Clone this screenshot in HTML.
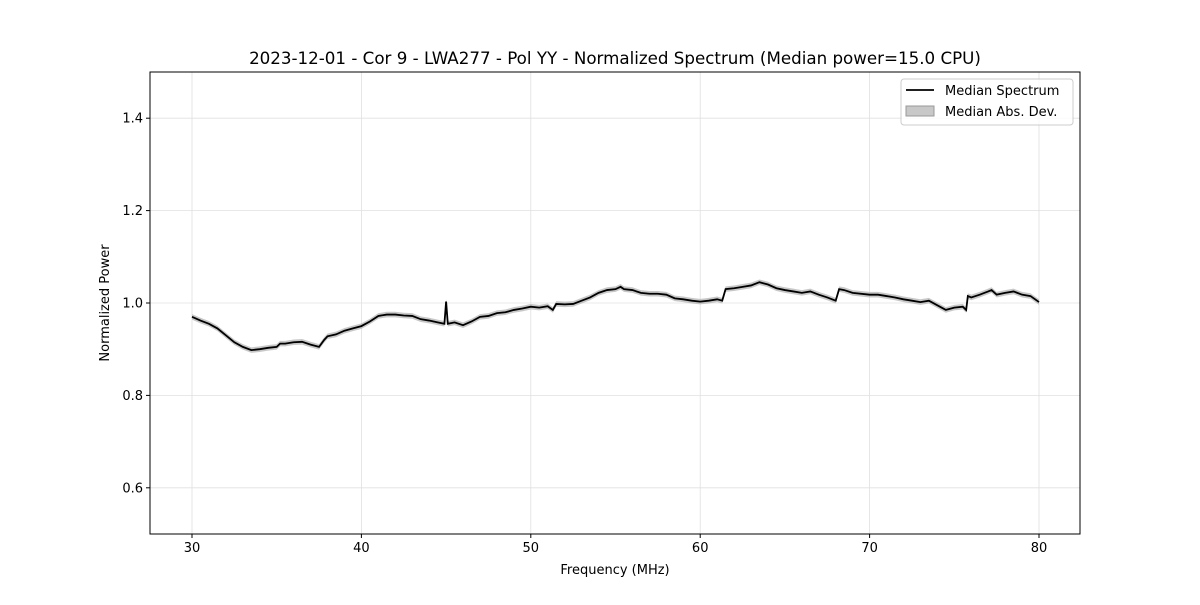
<!DOCTYPE html>
<html><head><meta charset="utf-8"><style>
body{margin:0;background:#fff;font-family:"Liberation Sans","DejaVu Sans",sans-serif;}
svg text{font-family:"DejaVu Sans","Liberation Sans",sans-serif;}
</style></head><body>
<svg id="c" width="1200" height="600"></svg>
<script>
const freqs=[30,30.5,31,31.5,32,32.5,33,33.5,34,34.5,35,35.2,35.5,36,36.5,37,37.5,37.8,38,38.5,39,39.5,40,40.5,41,41.5,42,42.5,43,43.5,44,44.5,44.9,45,45.1,45.5,46,46.5,47,47.5,48,48.5,49,49.5,50,50.5,51,51.3,51.5,52,52.5,53,53.5,54,54.5,55,55.3,55.5,56,56.5,57,57.5,58,58.5,59,59.5,60,60.5,61,61.3,61.5,62,62.5,63,63.5,64,64.5,65,65.5,66,66.5,67,67.5,68,68.2,68.5,69,70,70.5,71,71.5,72,72.5,73,73.5,74,74.5,75,75.5,75.7,75.8,76,76.5,77,77.2,77.5,78,78.5,79,79.5,80];
const medians=[0.970,0.962,0.955,0.945,0.930,0.915,0.905,0.898,0.900,0.903,0.905,0.912,0.912,0.915,0.916,0.910,0.905,0.920,0.928,0.932,0.940,0.945,0.950,0.960,0.972,0.975,0.975,0.973,0.972,0.965,0.962,0.958,0.955,1.003,0.955,0.958,0.952,0.960,0.970,0.972,0.978,0.980,0.985,0.988,0.992,0.990,0.993,0.985,0.998,0.997,0.998,1.005,1.012,1.022,1.028,1.030,1.035,1.030,1.028,1.022,1.020,1.020,1.018,1.010,1.008,1.005,1.003,1.005,1.008,1.005,1.030,1.032,1.035,1.038,1.045,1.040,1.032,1.028,1.025,1.022,1.025,1.018,1.012,1.005,1.030,1.028,1.022,1.018,1.018,1.015,1.012,1.008,1.005,1.002,1.005,0.995,0.985,0.990,0.992,0.985,1.015,1.012,1.018,1.025,1.028,1.018,1.022,1.025,1.018,1.015,1.002];
const madVal=0.006;
const xTicks=[30,40,50,60,70,80];
const yTicks=[0.6,0.8,1.0,1.2,1.4];
const NS='http://www.w3.org/2000/svg',svg=document.getElementById('c');
const L=150,R=1080,T=72,B=534;
const xs=v=>192+(v-30)*(1039-192)/50;
const ys=v=>B-(v-0.5)*(B-T)/1.0;
function mk(tag,attrs,parent){const e=document.createElementNS(NS,tag);for(const k in attrs)e.setAttribute(k,attrs[k]);(parent||svg).appendChild(e);return e;}
xTicks.forEach(t=>{const g=mk('line',{x1:xs(t),x2:xs(t),y1:T,y2:B,stroke:'#e0e0e0','stroke-width':0.8});


mk('line',{x1:xs(t),x2:xs(t),y1:B,y2:B+4,stroke:'#000'});
const tx=mk('text',{x:xs(t),y:B+18,'text-anchor':'middle','font-size':13});tx.textContent=t;

});
yTicks.forEach(t=>{const g=mk('line',{x1:L,x2:R,y1:ys(t),y2:ys(t),stroke:'#e0e0e0','stroke-width':0.8});


mk('line',{x1:L-4,x2:L,y1:ys(t),y2:ys(t),stroke:'#000'});
const tx=mk('text',{x:L-7,y:ys(t)+4.5,'text-anchor':'end','font-size':13});tx.textContent=t.toFixed(1);

});
let up=freqs.map((f,i)=>xs(f)+','+ys(medians[i]+madVal)).join(' ');
let dn=freqs.map((f,i)=>xs(f)+','+ys(medians[i]-madVal)).reverse().join(' ');
const band=mk('polygon',{points:up+' '+dn,fill:'#b0b0b0','fill-opacity':0.7});


const line=mk('polyline',{points:freqs.map((f,i)=>xs(f)+','+ys(medians[i])).join(' '),fill:'none',stroke:'#000','stroke-width':1.8});


const fr=mk('rect',{x:L,y:T,width:R-L,height:B-T,fill:'none',stroke:'#000','stroke-width':1});


</script>
<svg width="1200" height="600" style="position:absolute;left:0;top:0">
<text x="615" y="64" text-anchor="middle" font-size="16.7">2023-12-01 - Cor 9 - LWA277 - Pol YY - Normalized Spectrum (Median power=15.0 CPU)</text>
<text x="615" y="574" text-anchor="middle" font-size="13">Frequency (MHz)</text>
<text x="109" y="303" text-anchor="middle" font-size="13" transform="rotate(-90 109 303)">Normalized Power</text>
<g>
<rect x="901" y="79" width="172" height="46" rx="3" fill="#fff" fill-opacity="0.8" stroke="#ccc"/>
<line x1="906" x2="934" y1="90" y2="90" stroke="#000" stroke-width="1.8"/>
<text x="945" y="95" font-size="13">Median Spectrum</text>
<rect x="906" y="106" width="28" height="10" fill="#b0b0b0" fill-opacity="0.7" stroke="#999"/>
<text x="945" y="116" font-size="13">Median Abs. Dev.</text>
</g>
</svg>
</body></html>
